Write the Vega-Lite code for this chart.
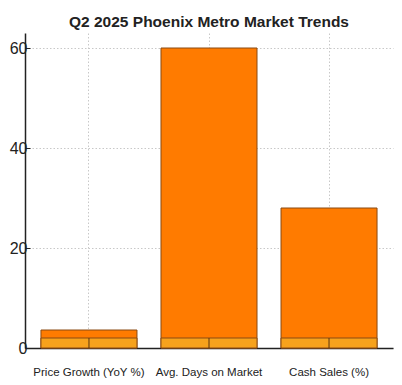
{
  "$schema": "https://vega.github.io/schema/vega-lite/v6.json",
  "width": 368,
  "height": 315,
  "autosize": "none",
  "padding": {"left": 25, "top": 33, "right": 9, "bottom": 37},
  "title": {"text": "Q2 2025 Phoenix Metro Market Trends", "font": "Liberation Sans", "fontSize": 15.5, "fontWeight": "bold", "color": "#222222", "offset": 3},
  "data": {"values": [
    {"metric": "Price Growth (YoY %)", "value": 3.6, "base": 2},
    {"metric": "Avg. Days on Market", "value": 60, "base": 2},
    {"metric": "Cash Sales (%)", "value": 28, "base": 2}
  ]},
  "config": {
    "view": {"stroke": null},
    "axis": {"labelFont": "Liberation Sans", "labelColor": "#222222", "domainColor": "#222222", "tickColor": "#222222", "gridColor": "#c8c8c8", "gridDash": [1.5, 2], "title": null}
  },
  "encoding": {
    "x": {"field": "metric", "type": "nominal", "sort": null,
      "scale": {"paddingInner": 0.2, "paddingOuter": 0.133},
      "axis": {"labelAngle": 0, "labelFontSize": 11.5, "tickSize": -10, "labelPadding": 28, "grid": true, "domainWidth": 1.5}}
  },
  "layer": [
    {"mark": {"type": "bar", "color": "#ff7b00", "stroke": "#8a4a12", "strokeWidth": 1},
     "encoding": {"y": {"field": "value", "type": "quantitative",
       "scale": {"domain": [0, 63], "nice": false},
       "axis": {"values": [0, 20, 40, 60], "labelFontSize": 16, "tickSize": -5, "labelPadding": 3, "grid": true, "domainWidth": 1.5}}}},
    {"mark": {"type": "bar", "color": "#f7a21c", "stroke": "#8a4a12", "strokeWidth": 1},
     "encoding": {"y": {"field": "base", "type": "quantitative"}}},
    {"mark": {"type": "rule", "color": "#5a3510", "strokeWidth": 1},
     "encoding": {"y": {"field": "base", "type": "quantitative"}, "y2": {"datum": 0}}}
  ]
}
